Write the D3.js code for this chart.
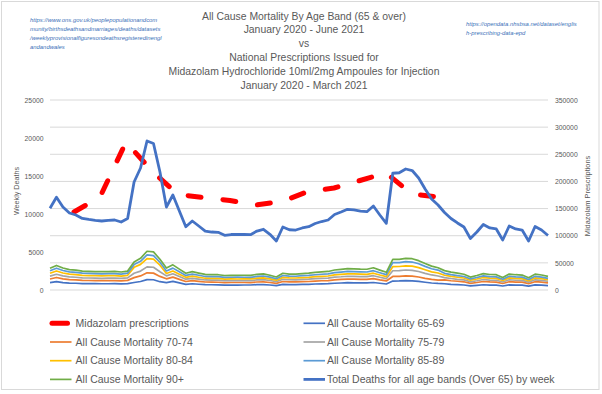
<!DOCTYPE html>
<html><head><meta charset="utf-8">
<script src="https://cdn.jsdelivr.net/npm/d3@7"></script>
<style>
html,body{margin:0;padding:0;background:#fff;}
svg{display:block;font-family:"Liberation Sans",Arial,sans-serif;}
</style></head>
<body>
<svg id="chart" width="602" height="394"></svg>
<script>
// ---------- DATA ----------
const weeks = d3.range(1, 79).map(i => "W" + i); // 78 weekly categories, Jan 2020 - Jun 2021
const months = ["Jan 2020","Feb 2020","Mar 2020","Apr 2020","May 2020","Jun 2020","Jul 2020","Aug 2020","Sep 2020","Oct 2020","Nov 2020","Dec 2020","Jan 2021","Feb 2021","Mar 2021"];
const midazolam = [143700,171300,272600,219200,175900,170400,164900,156600,163000,181400,187900,201700,215500,176800,171300];

const total = [10750,12200,10920,10130,9870,9410,9280,9170,9080,9150,9210,8950,9410,14210,16050,19610,19280,15530,10920,12500,10390,8330,9080,8420,7760,7630,7590,7200,7300,7300,7320,7280,7760,7990,7330,6450,8290,7930,7890,8160,8330,8750,9010,9210,9930,10260,10620,10530,10390,10300,11050,9870,8780,15360,15430,15920,15720,14740,13290,11970,11180,10200,9410,8820,8290,6780,7630,8620,8160,8030,6580,8420,8030,7890,6450,8360,7890,7170];

const age6569 = [970,1100,980,910,890,850,840,830,820,820,830,810,850,990,1120,1370,1350,1090,980,1130,940,750,820,760,700,690,680,650,660,650,660,660,700,720,660,580,750,710,710,730,750,790,810,830,890,920,960,950,940,930,990,890,790,1180,1190,1230,1210,1130,1020,920,860,820,750,710,660,540,610,690,650,640,530,670,640,630,520,670,630,570];
const age7074 = [1450,1650,1470,1370,1330,1270,1250,1240,1230,1240,1240,1210,1270,1630,1850,2260,2220,1790,1470,1690,1400,1120,1230,1140,1050,1030,1020,970,990,990,990,980,1050,1080,990,870,1120,1070,1070,1100,1120,1180,1220,1240,1340,1390,1430,1420,1400,1390,1490,1330,1190,1780,1790,1850,1820,1710,1540,1390,1300,1330,1220,1150,1080,880,990,1120,1060,1040,860,1090,1040,1030,840,1090,1030,930];
const age7579 = [1830,2070,1860,1720,1680,1600,1580,1560,1540,1560,1570,1520,1600,2200,2490,3040,2990,2410,1860,2130,1770,1420,1540,1430,1320,1300,1290,1220,1240,1250,1240,1240,1320,1360,1250,1100,1410,1350,1340,1390,1420,1490,1530,1570,1690,1740,1810,1790,1770,1750,1880,1680,1490,2530,2550,2630,2590,2430,2190,1980,1840,1630,1510,1410,1330,1080,1220,1380,1310,1280,1050,1350,1280,1260,1030,1340,1260,1150];
const age8084 = [2200,2500,2240,2080,2020,1930,1900,1880,1860,1880,1890,1830,1930,2980,3370,4120,4050,3260,2180,2500,2080,1670,1820,1680,1550,1530,1520,1440,1460,1450,1460,1460,1550,1600,1470,1290,1660,1590,1580,1630,1670,1750,1800,1840,1990,2050,2120,2110,2080,2060,2210,1970,1760,3070,3090,3180,3140,2950,2660,2390,2240,1940,1790,1680,1580,1290,1450,1640,1550,1530,1250,1600,1530,1500,1230,1590,1500,1360];
const age8589 = [2530,2870,2570,2380,2320,2210,2180,2150,2130,2150,2160,2100,2210,3340,3770,4610,4530,3650,2510,2880,2390,1920,2090,1940,1780,1750,1750,1660,1680,1690,1680,1670,1780,1840,1690,1480,1910,1820,1810,1880,1920,2010,2070,2120,2280,2360,2440,2420,2390,2370,2540,2270,2020,3590,3610,3730,3680,3450,3110,2800,2620,2190,2020,1900,1780,1460,1640,1850,1750,1730,1410,1810,1730,1700,1390,1800,1700,1540];
const age90 = [2850,3230,2890,2680,2620,2490,2460,2430,2410,2420,2440,2370,2490,3690,4170,5100,5010,4040,2890,3310,2750,2210,2410,2230,2060,2020,2010,1910,1930,1940,1940,1930,2060,2120,1940,1710,2200,2100,2090,2160,2210,2320,2390,2440,2630,2720,2810,2790,2750,2730,2930,2620,2330,4020,4040,4170,4120,3860,3480,3140,2930,2550,2350,2210,2070,1700,1910,2160,2040,2010,1650,2100,2010,1970,1610,2090,1970,1790];

const leftTicks = [0,5000,10000,15000,20000,25000];
const rightTicks = [0,50000,100000,150000,200000,250000,300000,350000];

const titleLines = ["All Cause Mortality By Age Band (65 & over)","January 2020 - June 2021","vs","National Prescriptions Issued for","Midazolam Hydrochloride 10ml/2mg Ampoules for Injection","January 2020 - March 2021"];
const linkLeft = ["https://www.ons.gov.uk/peoplepopulationandcom","munity/birthsdeathsandmarriages/deaths/datasets","/weeklyprovisionalfiguresondeathsregisteredinengl","andandwales"];
const linkRight = ["https://opendata.nhsbsa.net/dataset/englis","h-prescribing-data-epd"];

const seriesNames = ["All Cause Mortality 65-69","All Cause Mortality 70-74","All Cause Mortality 75-79","All Cause Mortality 80-84","All Cause Mortality 85-89","All Cause Mortality 90+","Total Deaths for all age bands (Over 65) by week"];
const seriesValues = [age6569, age7074, age7579, age8084, age8589, age90, total];
const seriesColors = ["#4472C4","#ED7D31","#A5A5A5","#FFC000","#5B9BD5","#70AD47","#4472C4"];
const midName = "Midazolam prescriptions";

// ---------- LAYOUT ----------
const svg = d3.select("#chart");
const textCol = "#595959";
const plot = {l: 50, r: 548, t: 100, b: 290};

svg.append("rect").attr("x",1.5).attr("y",1.5).attr("width",597.5).attr("height",388)
  .attr("fill","#fff").attr("stroke","#d9d9d9").attr("stroke-width",1);

// titles
svg.append("g").selectAll("text").data(titleLines).join("text")
  .attr("x", 304).attr("y", (d,i) => 16 + i*13.8).attr("dy","0.35em")
  .attr("text-anchor","middle").attr("font-size",10.4).attr("fill",textCol).text(d => d);

svg.append("g").selectAll("text").data(linkLeft).join("text")
  .attr("x", 30).attr("y", (d,i) => 20 + i*8.9).attr("dy","0.35em")
  .attr("font-size",5.9).attr("font-style","italic").attr("fill","#3a6fb8").text(d => d);
svg.append("g").selectAll("text").data(linkRight).join("text")
  .attr("x", 466).attr("y", (d,i) => 24 + i*8.9).attr("dy","0.35em")
  .attr("font-size",5.9).attr("font-style","italic").attr("fill","#3a6fb8").text(d => d);

// scales
const x = d3.scalePoint().domain(weeks).range([plot.l, plot.r]);
const xm = d3.scalePoint().domain(months).range([74, 438]);
const yL = d3.scaleLinear().domain([0,25000]).range([plot.b, plot.t]);
const yR = d3.scaleLinear().domain([0,350000]).range([plot.b, plot.t]);

// gridlines (secondary axis ticks)
svg.append("g").selectAll("line").data(rightTicks).join("line")
  .attr("x1", plot.l).attr("x2", plot.r)
  .attr("y1", d => yR(d)).attr("y2", d => yR(d))
  .attr("stroke","#d9d9d9").attr("stroke-width",1);

// axes
const gl = svg.append("g").attr("transform",`translate(${plot.l},0)`)
  .call(d3.axisLeft(yL).tickValues(leftTicks).tickSize(0).tickPadding(6.5).tickFormat(d3.format("d")));
const gr = svg.append("g").attr("transform",`translate(${plot.r},0)`)
  .call(d3.axisRight(yR).tickValues(rightTicks).tickSize(0).tickPadding(7).tickFormat(d3.format("d")));
[gl, gr].forEach(g => {
  g.select(".domain").remove();
  g.selectAll("text").attr("fill",textCol).attr("font-size",6.8)
    .attr("font-family","'Liberation Sans',Arial,sans-serif");
});

svg.append("text").attr("transform","translate(16.7,191) rotate(-90)")
  .attr("text-anchor","middle").attr("dy","0.35em").attr("font-size",7.2).attr("fill",textCol).text("Weekly Deaths");
svg.append("text").attr("transform","translate(587,196) rotate(-90)")
  .attr("text-anchor","middle").attr("dy","0.35em").attr("font-size",7.4).attr("fill",textCol).text("Midazolam Prescriptions");

// Midazolam (secondary axis)
const lineM = d3.line().x((d,i) => xm(months[i])).y(d => yR(d));
svg.append("path").datum(midazolam).attr("d", lineM)
  .attr("fill","none").attr("stroke","#FF0000").attr("stroke-width",5)
  .attr("stroke-linecap","round").attr("stroke-linejoin","round")
  .attr("stroke-dasharray","13,22");

// weekly series
const lineW = d3.line().x((d,i) => x(weeks[i])).y(d => yL(d));
seriesValues.forEach((vals, k) => {
  svg.append("path").datum(vals).attr("d", lineW)
    .attr("fill","none").attr("stroke", seriesColors[k])
    .attr("stroke-width", k === 6 ? 2.8 : 1.7)
    .attr("stroke-linejoin","round");
});

// legend
const legendItems = [
  {name: midName, color:"#FF0000", w:5, col:0, row:0},
  {name: seriesNames[0], color: seriesColors[0], w:1.7, col:1, row:0},
  {name: seriesNames[1], color: seriesColors[1], w:1.7, col:0, row:1},
  {name: seriesNames[2], color: seriesColors[2], w:1.7, col:1, row:1},
  {name: seriesNames[3], color: seriesColors[3], w:1.7, col:0, row:2},
  {name: seriesNames[4], color: seriesColors[4], w:1.7, col:1, row:2},
  {name: seriesNames[5], color: seriesColors[5], w:1.7, col:0, row:3},
  {name: seriesNames[6], color: seriesColors[6], w:2.8, col:1, row:3}
];
const colX = [50, 303.5];
const lg = svg.append("g").selectAll("g").data(legendItems).join("g")
  .attr("transform", d => `translate(${colX[d.col]},${323.3 + d.row*18.7})`);
lg.append("line").attr("x1", d => d.w > 4 ? 2 : 0).attr("x2", d => d.w > 4 ? 17.5 : 21.5)
  .attr("stroke", d => d.color).attr("stroke-width", d => d.w)
  .attr("stroke-linecap", d => d.w > 4 ? "round" : "butt");
lg.append("text").attr("x", d => d.col === 0 ? 25.6 : 23.5).attr("dy","0.35em")
  .attr("font-size",10.5).attr("fill",textCol).text(d => d.name);
</script>
</body></html>
